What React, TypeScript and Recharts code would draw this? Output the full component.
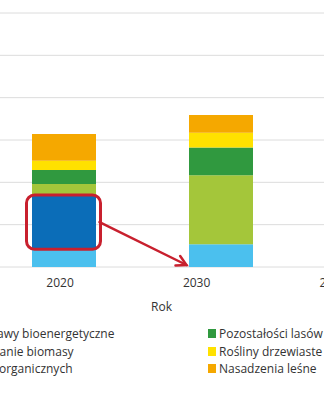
import { BarChart, Bar, XAxis, YAxis, CartesianGrid, ReferenceLine } from "recharts";

// lata (kategorie) i wartości serii
const years = ["2020", "2030", "2040"];
const uprawy = [4.2, 5.4, 3.0];
const spalanie = [12.8, 0, 0];
const organiczne = [2.6, 16.3, 20.3];
const pozostalosci = [3.3, 6.5, 9.0];
const drzewiaste = [2.2, 3.5, 9.9];
const nasadzenia = [6.3, 4.2, 6.8];

const yTicks = [0, 10, 20, 30, 40, 50, 60];
const yearTicks = [2020, 2030, 2040];

const series = [
  { key: "uprawy", name: "Uprawy bioenergetyczne", color: "#4bc0ee" },
  { key: "spalanie", name: "Spalanie biomasy", color: "#0b6db8" },
  { key: "organiczne", name: "Od. organicznych", color: "#a4c63a" },
  { key: "pozostalosci", name: "Pozostałości lasów", color: "#30993f" },
  { key: "drzewiaste", name: "Rośliny drzewiaste krótkiej rotacji", color: "#ffe100" },
  { key: "nasadzenia", name: "Nasadzenia leśne", color: "#f5a800" },
];

const data = years.map((year, i) => ({
  year,
  uprawy: uprawy[i],
  spalanie: spalanie[i],
  organiczne: organiczne[i],
  pozostalosci: pozostalosci[i],
  drzewiaste: drzewiaste[i],
  nasadzenia: nasadzenia[i],
}));

const BAR = 64;
const RED = "#c8202e";

// czerwona ramka wokół segmentu "spalanie" w 2020
function BoxShape(props: any) {
  const { x1, y1, y2 } = props;
  if (x1 == null) return null;
  const top = Math.min(y1, y2);
  const h = Math.abs(y1 - y2);
  return (
    <rect
      x={x1 - BAR / 2 - 5}
      y={top}
      width={BAR + 10}
      height={h}
      rx={8}
      fill="none"
      stroke={RED}
      strokeWidth={3}
    />
  );
}

// strzałka od ramki do słupka 2030
function ArrowShape(props: any) {
  const { x1, y1, x2, y2 } = props;
  if (x1 == null) return null;
  const sx = x1 + BAR / 2 + 4;
  const ex = x2 - BAR / 2 - 2;
  const ey = y2 - 2;
  const ang = Math.atan2(ey - y1, ex - sx);
  const len = 11;
  const a1 = ang + Math.PI - 0.5;
  const a2 = ang + Math.PI + 0.5;
  return (
    <g stroke={RED} strokeWidth={2.5} fill="none" strokeLinecap="round">
      <line x1={sx} y1={y1} x2={ex} y2={ey} />
      <polyline
        points={`${ex + len * Math.cos(a1)},${ey + len * Math.sin(a1)} ${ex},${ey} ${ex + len * Math.cos(a2)},${ey + len * Math.sin(a2)}`}
      />
    </g>
  );
}

function LegendItem({ name, color }: { name: string; color: string }) {
  return (
    <div style={{ display: "flex", alignItems: "center", height: 17.5, whiteSpace: "nowrap" }}>
      <span style={{ width: 8, height: 9, background: color, marginRight: 3, flex: "none" }} />
      <span>{name}</span>
    </div>
  );
}

export default function App() {
  return (
    <div
      style={{
        position: "fixed",
        left: 0,
        top: 0,
        width: 324,
        height: 400,
        overflow: "hidden",
        background: "#fff",
        fontFamily: "'Open Sans', sans-serif",
        color: "#333",
        fontSize: 12,
      }}
    >
      <div style={{ position: "absolute", left: -100, top: 0 }}>
        <BarChart
          width={640}
          height={297}
          data={data}
          margin={{ top: 13, right: 84, bottom: 0, left: 25 }}
        >
          <CartesianGrid vertical={false} stroke="#dcdcdc" />
          <XAxis
            xAxisId="lbl"
            type="number"
            dataKey={(d: any) => Number(d.year)}
            domain={[2014.5, 2049]}
            ticks={yearTicks}
            allowDataOverflow
            axisLine={false}
            tickLine={false}
            tickMargin={5}
            height={30}
            tick={{ fill: "#333", fontSize: 12 }}
          />
          <XAxis xAxisId="bars" dataKey="year" hide height={0} />
          <YAxis
            width={60}
            domain={[0, 60]}
            ticks={yTicks}
            axisLine={false}
            tickLine={false}
            tick={{ fill: "#333", fontSize: 12 }}
          />
          {series.map((s) => (
            <Bar
              key={s.key}
              xAxisId="bars"
              dataKey={s.key}
              name={s.name}
              stackId="a"
              fill={s.color}
              barSize={BAR}
              isAnimationActive={false}
            />
          ))}
          <ReferenceLine
            xAxisId="bars"
            segment={[
              { x: years[0], y: uprawy[0] },
              { x: years[0], y: uprawy[0] + spalanie[0] },
            ]}
            shape={BoxShape}
          />
          <ReferenceLine
            xAxisId="bars"
            segment={[
              { x: years[0], y: uprawy[0] + spalanie[0] / 2 },
              { x: years[1], y: 0 },
            ]}
            shape={ArrowShape}
          />
        </BarChart>
      </div>
      <div style={{ position: "absolute", left: 151, top: 298 }}>Rok</div>
      <div style={{ position: "absolute", left: -35, top: 325 }}>
        {series.slice(0, 3).map((s) => (
          <LegendItem key={s.key} name={s.name} color={s.color} />
        ))}
      </div>
      <div style={{ position: "absolute", left: 208, top: 325 }}>
        {series.slice(3).map((s) => (
          <LegendItem key={s.key} name={s.name} color={s.color} />
        ))}
      </div>
    </div>
  );
}
